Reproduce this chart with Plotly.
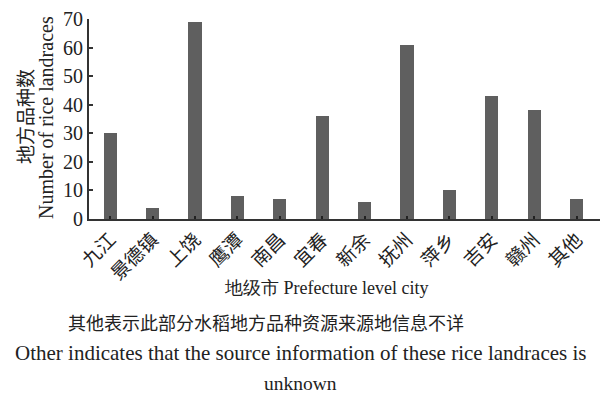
import plotly.graph_objects as go

# Prefecture-level cities and rice landrace counts
cities = ["九江", "景德镇", "上饶", "鹰潭", "南昌", "宜春", "新余", "抚州", "萍乡", "吉安", "赣州", "其他"]
counts = [30, 4, 69, 8, 7, 36, 6, 61, 10, 43, 38, 7]
y_ticks = [0, 10, 20, 30, 40, 50, 60, 70]

y_title_cn = "地方品种数"
y_title_en = "Number of rice landraces"
x_title = "地级市 Prefecture level city"
note_cn = "其他表示此部分水稻地方品种资源来源地信息不详"
note_en_1 = "Other indicates that the source information of these rice landraces is"
note_en_2 = "unknown"

SERIF = "Liberation Serif, Times New Roman, serif"
CJK = "Noto Sans CJK SC, sans-serif"

fig = go.Figure(
    go.Bar(
        x=list(range(len(cities))),
        y=counts,
        width=0.31,
        marker=dict(color="#5f5f5f", line=dict(width=0)),
    )
)

fig.update_layout(
    width=600,
    height=400,
    margin=dict(l=89, r=0, t=19, b=181),
    paper_bgcolor="white",
    plot_bgcolor="white",
    showlegend=False,
    bargap=0,
)

fig.update_xaxes(
    range=[-0.5, 11.55],
    tickmode="array",
    tickvals=list(range(len(cities))),
    ticktext=cities,
    tickangle=-45,
    tickfont=dict(family=CJK, size=19, color="#222"),
    showline=True,
    linecolor="#333",
    linewidth=2,
    ticks="inside",
    ticklen=3,
    tickwidth=2,
    tickcolor="#222",
    showgrid=False,
    zeroline=False,
)

fig.update_yaxes(
    range=[0, 70],
    tickmode="array",
    tickvals=y_ticks,
    tickfont=dict(family=SERIF, size=20, color="#222"),
    showline=True,
    linecolor="#333",
    linewidth=2,
    ticks="inside",
    ticklen=4,
    tickwidth=1.5,
    tickcolor="#333",
    showgrid=False,
    zeroline=False,
)

common = dict(xref="paper", yref="paper", showarrow=False, xanchor="center", yanchor="middle")

fig.add_annotation(x=0, y=0.5, xshift=-65, yshift=2, text=y_title_cn, textangle=-90,
                   font=dict(family=CJK, size=19, color="#222"), **common)
fig.add_annotation(x=0, y=0.5, xshift=-43, yshift=1, text=y_title_en, textangle=-90,
                   font=dict(family=SERIF, size=20, color="#222"), **common)
fig.add_annotation(x=0, y=0, xshift=237, yshift=-69, text=x_title,
                   font=dict(family=SERIF, size=18, color="#222"), **common)
fig.add_annotation(x=0, y=0, xshift=177, yshift=-103, text=note_cn,
                   font=dict(family=CJK, size=18, color="#222"), **common)
fig.add_annotation(x=0, y=0, xshift=211, yshift=-134, text=note_en_1,
                   font=dict(family=SERIF, size=21, color="#222"), **common)
fig.add_annotation(x=0, y=0, xshift=211, yshift=-164, text=note_en_2,
                   font=dict(family=SERIF, size=19.5, color="#222"), **common)

fig.write_html("out.html")
